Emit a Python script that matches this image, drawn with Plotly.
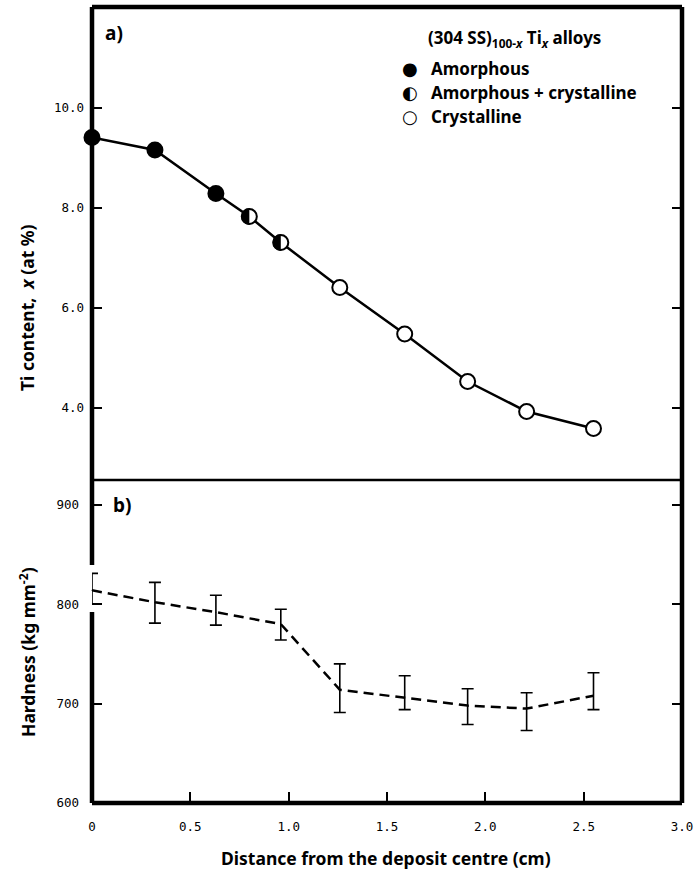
import numpy as np
import plotly.graph_objects as go
from plotly.subplots import make_subplots

# ---- data ----
dist = [0.0, 0.32, 0.63, 0.80, 0.96, 1.26, 1.59, 1.91, 2.21, 2.55]
ti = [9.41, 9.16, 8.29, 7.83, 7.31, 6.41, 5.48, 4.53, 3.93, 3.59]
phase = ["A", "A", "A", "AC", "AC", "C", "C", "C", "C", "C"]

hard_x = [0.0, 0.32, 0.63, 0.96, 1.26, 1.59, 1.91, 2.21, 2.55]
hard = [814, 802, 792, 780, 714, 706, 698, 695, 708]
hard_plus = [17, 20, 17, 15, 26, 22, 17, 16, 23]
hard_minus = [14, 21, 13, 16, 23, 12, 19, 22, 14]

x_ticks = [0, 0.5, 1.0, 1.5, 2.0, 2.5, 3.0]
x_ticktext = ["0", "0.5", "1.0", "1.5", "2.0", "2.5", "3.0"]
ti_ticks = [4, 6, 8, 10]
ti_ticktext = ["4.0", "6.0", "8.0", "10.0"]
h_ticks = [600, 700, 800, 900]

# ---- layout geometry ----
W, H = 700, 870
ML, MR, MT, MB = 92, 18, 7, 67
PW, PH = W - ML - MR, H - MT - MB
split_px = 480
split = (H - MB - split_px) / PH
x_range = [0, 3.0]
ti_range = [2.56, 12.02]
h_range = [600, 925]

mono = "DejaVu Sans Mono"
sans = "Noto Sans"

fig = make_subplots(rows=2, cols=1, shared_xaxes=True, vertical_spacing=0)

# top panel: connecting line
fig.add_trace(go.Scatter(x=dist, y=ti, mode="lines",
                         line=dict(color="black", width=2.5),
                         showlegend=False, hoverinfo="skip", cliponaxis=False), row=1, col=1)

fills = ["black" if p == "A" else "white" for p in phase]
fig.add_trace(go.Scatter(x=dist, y=ti, mode="markers",
                         marker=dict(size=15, color=fills, line=dict(color="black", width=2)),
                         showlegend=False, cliponaxis=False), row=1, col=1)

# left half black for amorphous + crystalline points
pxx = PW / (x_range[1] - x_range[0])
pxy = (PH * (1 - split)) / (ti_range[1] - ti_range[0])
r = 8.0
t = np.linspace(np.pi / 2, 3 * np.pi / 2, 25)
hx, hy = [], []
for xv, yv, p in zip(dist, ti, phase):
    if p == "AC":
        hx += list(xv + r * np.cos(t) / pxx) + [None]
        hy += list(yv + r * np.sin(t) / pxy) + [None]
fig.add_trace(go.Scatter(x=hx, y=hy, mode="lines", fill="toself", fillcolor="black",
                         line=dict(color="black", width=0.5),
                         showlegend=False, hoverinfo="skip", cliponaxis=False), row=1, col=1)

# bottom panel
fig.add_trace(go.Scatter(x=hard_x, y=hard, mode="lines+markers",
                         line=dict(color="black", width=2.5, dash="10px,6px"),
                         marker=dict(size=1, color="black"),
                         error_y=dict(type="data", symmetric=False, array=hard_plus,
                                      arrayminus=hard_minus, color="black",
                                      thickness=1.6, width=6),
                         showlegend=False, cliponaxis=False), row=2, col=1)

tickfont = dict(family=mono, size=12.5, color="black")

fig.update_xaxes(range=x_range, showgrid=False, zeroline=False,
                 showline=True, linecolor="black", linewidth=1, mirror=False)
fig.update_xaxes(row=1, col=1, side="top", ticks="", showticklabels=False)
fig.update_xaxes(row=2, col=1, ticks="inside", ticklen=11, tickwidth=1.5, tickcolor="black",
                 tickvals=x_ticks, ticktext=x_ticktext, tickfont=tickfont,
                 ticklabelstandoff=12)

fig.update_yaxes(showgrid=False, zeroline=False, showline=False,
                 mirror="ticks", ticks="inside", ticklen=10,
                 tickwidth=1.5, tickcolor="black", tickfont=tickfont)
fig.update_yaxes(row=1, col=1, range=ti_range, domain=[split, 1],
                 tickvals=ti_ticks, ticktext=ti_ticktext, ticklabelstandoff=7)
fig.update_yaxes(row=2, col=1, range=h_range, domain=[0, split],
                 tickvals=h_ticks, ticklabelstandoff=12)


def px2paper(xp, yp):
    return (xp - ML) / PW, (H - MB - yp) / PH


def ann(xp, yp, text, font, xanchor="center", angle=0):
    ax, ay = px2paper(xp, yp)
    return dict(x=ax, y=ay, text=text, textangle=angle, font=font, showarrow=False,
                xref="paper", yref="paper", xanchor=xanchor, yanchor="middle")


anns = []
title_font = dict(family=sans, size=17.5, color="black", weight="bold")
anns.append(ann(27, 308, "Ti content,  <i>x</i> (at %)", title_font, angle=-90))
anns.append(ann(27, 652, "Hardness (kg mm<sup>-2</sup>)", title_font, angle=-90))
anns.append(ann(386, 858, "Distance from the deposit centre (cm)", title_font))

lab_font = dict(family=sans, size=19, color="black", weight="bold")
anns.append(ann(103, 33, "a)", lab_font, xanchor="left"))
anns.append(ann(111, 505, "b)", lab_font, xanchor="left"))

# legend
leg_font = dict(family=sans, size=17, color="black", weight="bold")
anns.append(ann(426, 39, "(304 SS)<sub>100-<i>x</i></sub> Ti<sub><i>x</i></sub> alloys",
                leg_font, xanchor="left"))
legend_rows = [("●", "Amorphous", 69), ("◐", "Amorphous + crystalline", 93), ("○", "Crystalline", 117)]
for sym, lab, yp in legend_rows:
    anns.append(ann(410, yp, sym, dict(family="DejaVu Sans", size=18, color="black")))
    anns.append(ann(429, yp, lab, leg_font, xanchor="left"))

FRAME = 4.5
gap_lo = px2paper(0, 612)[1]
gap_hi = px2paper(0, 565)[1]
shapes = [
    # left frame (broken around the first error bar, as in the original)
    dict(type="line", xref="paper", yref="paper", x0=0, x1=0, y0=0, y1=gap_lo,
         line=dict(color="black", width=FRAME)),
    dict(type="line", xref="paper", yref="paper", x0=0, x1=0, y0=gap_hi, y1=1,
         line=dict(color="black", width=FRAME)),
    dict(type="line", xref="paper", yref="paper", x0=1, x1=1, y0=0, y1=1,
         line=dict(color="black", width=FRAME)),
    dict(type="line", xref="paper", yref="paper", x0=0, x1=1, y0=1, y1=1,
         line=dict(color="black", width=FRAME)),
    dict(type="line", xref="paper", yref="paper", x0=0, x1=1, y0=0, y1=0,
         line=dict(color="black", width=FRAME)),
    dict(type="line", xref="paper", yref="paper", x0=0, x1=1, y0=split, y1=split,
         line=dict(color="black", width=2.5)),
]

fig.update_layout(
    width=W, height=H, margin=dict(l=ML, r=MR, t=MT, b=MB),
    paper_bgcolor="white", plot_bgcolor="white",
    annotations=anns, shapes=shapes,
    showlegend=False,
)

fig.write_html("out.html")
